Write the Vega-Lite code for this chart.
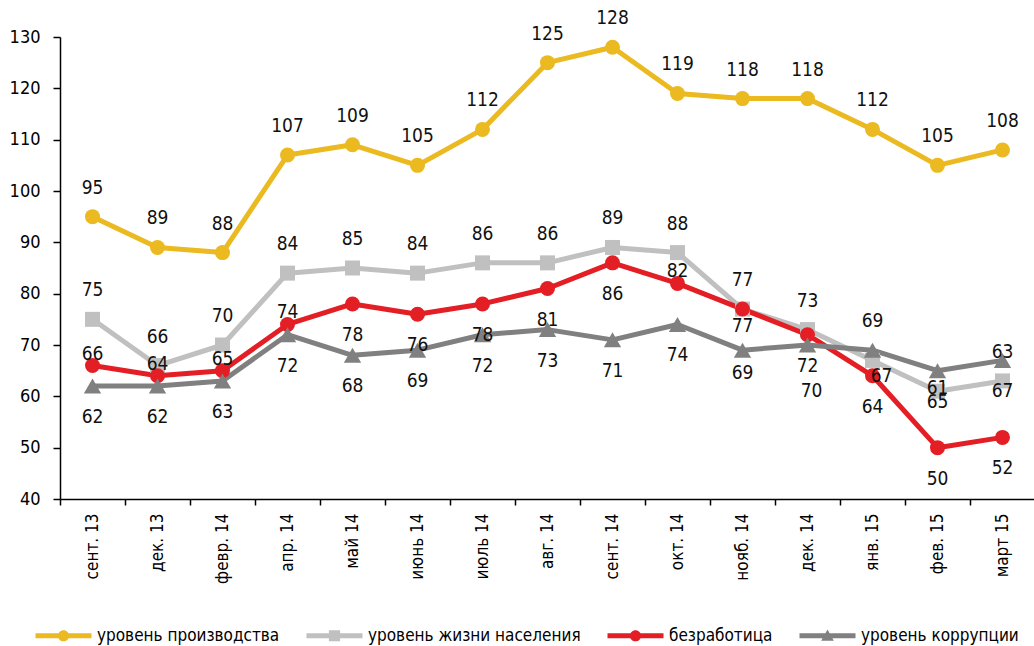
{
  "$schema": "https://vega.github.io/schema/vega-lite/v6.json",
  "width": 975,
  "height": 462,
  "autosize": {"type": "none"},
  "padding": {"left": 60, "top": 37, "right": 0, "bottom": 147},
  "background": "white",
  "config": {
    "view": {"stroke": null},
    "font": "Liberation Sans Narrow, DejaVu Sans Condensed, sans-serif",
    "text": {"font": "Liberation Sans Narrow, DejaVu Sans Condensed, sans-serif"}
  },
  "data": {
    "values": [
      {"month": "сент. 13", "series": "уровень производства", "value": 95},
      {"month": "дек. 13", "series": "уровень производства", "value": 89},
      {"month": "февр. 14", "series": "уровень производства", "value": 88},
      {"month": "апр. 14", "series": "уровень производства", "value": 107},
      {"month": "май 14", "series": "уровень производства", "value": 109},
      {"month": "июнь 14", "series": "уровень производства", "value": 105},
      {"month": "июль 14", "series": "уровень производства", "value": 112},
      {"month": "авг. 14", "series": "уровень производства", "value": 125},
      {"month": "сент. 14", "series": "уровень производства", "value": 128},
      {"month": "окт. 14", "series": "уровень производства", "value": 119},
      {"month": "нояб. 14", "series": "уровень производства", "value": 118},
      {"month": "дек. 14", "series": "уровень производства", "value": 118},
      {"month": "янв. 15", "series": "уровень производства", "value": 112},
      {"month": "фев. 15", "series": "уровень производства", "value": 105},
      {"month": "март 15", "series": "уровень производства", "value": 108},
      {"month": "сент. 13", "series": "уровень жизни населения", "value": 75},
      {"month": "дек. 13", "series": "уровень жизни населения", "value": 66},
      {"month": "февр. 14", "series": "уровень жизни населения", "value": 70},
      {"month": "апр. 14", "series": "уровень жизни населения", "value": 84},
      {"month": "май 14", "series": "уровень жизни населения", "value": 85},
      {"month": "июнь 14", "series": "уровень жизни населения", "value": 84},
      {"month": "июль 14", "series": "уровень жизни населения", "value": 86},
      {"month": "авг. 14", "series": "уровень жизни населения", "value": 86},
      {"month": "сент. 14", "series": "уровень жизни населения", "value": 89},
      {"month": "окт. 14", "series": "уровень жизни населения", "value": 88},
      {"month": "нояб. 14", "series": "уровень жизни населения", "value": 77},
      {"month": "дек. 14", "series": "уровень жизни населения", "value": 73},
      {"month": "янв. 15", "series": "уровень жизни населения", "value": 67},
      {"month": "фев. 15", "series": "уровень жизни населения", "value": 61},
      {"month": "март 15", "series": "уровень жизни населения", "value": 63},
      {"month": "сент. 13", "series": "безработица", "value": 66},
      {"month": "дек. 13", "series": "безработица", "value": 64},
      {"month": "февр. 14", "series": "безработица", "value": 65},
      {"month": "апр. 14", "series": "безработица", "value": 74},
      {"month": "май 14", "series": "безработица", "value": 78},
      {"month": "июнь 14", "series": "безработица", "value": 76},
      {"month": "июль 14", "series": "безработица", "value": 78},
      {"month": "авг. 14", "series": "безработица", "value": 81},
      {"month": "сент. 14", "series": "безработица", "value": 86},
      {"month": "окт. 14", "series": "безработица", "value": 82},
      {"month": "нояб. 14", "series": "безработица", "value": 77},
      {"month": "дек. 14", "series": "безработица", "value": 72},
      {"month": "янв. 15", "series": "безработица", "value": 64},
      {"month": "фев. 15", "series": "безработица", "value": 50},
      {"month": "март 15", "series": "безработица", "value": 52},
      {"month": "сент. 13", "series": "уровень коррупции", "value": 62},
      {"month": "дек. 13", "series": "уровень коррупции", "value": 62},
      {"month": "февр. 14", "series": "уровень коррупции", "value": 63},
      {"month": "апр. 14", "series": "уровень коррупции", "value": 72},
      {"month": "май 14", "series": "уровень коррупции", "value": 68},
      {"month": "июнь 14", "series": "уровень коррупции", "value": 69},
      {"month": "июль 14", "series": "уровень коррупции", "value": 72},
      {"month": "авг. 14", "series": "уровень коррупции", "value": 73},
      {"month": "сент. 14", "series": "уровень коррупции", "value": 71},
      {"month": "окт. 14", "series": "уровень коррупции", "value": 74},
      {"month": "нояб. 14", "series": "уровень коррупции", "value": 69},
      {"month": "дек. 14", "series": "уровень коррупции", "value": 70},
      {"month": "янв. 15", "series": "уровень коррупции", "value": 69},
      {"month": "фев. 15", "series": "уровень коррупции", "value": 65},
      {"month": "март 15", "series": "уровень коррупции", "value": 67}
    ]
  },
  "encoding": {
    "x": {
      "field": "month", "type": "ordinal", "sort": null,
      "scale": {"type": "band", "paddingInner": 0, "paddingOuter": 0},
      "axis": {
        "title": null, "labelAngle": -90, "labelFontSize": 17, "labelColor": "#000",
        "tickBand": "extent", "tickSize": 6, "tickColor": "#000", "tickWidth": 1.5,
        "domainColor": "#000", "domainWidth": 1.5, "labelPadding": 8, "grid": false
      }
    },
    "y": {
      "field": "value", "type": "quantitative",
      "scale": {"domain": [40, 130], "nice": false, "zero": false},
      "axis": {
        "title": null, "values": [40, 50, 60, 70, 80, 90, 100, 110, 120, 130],
        "labelFontSize": 18, "labelColor": "#000", "tickSize": 7, "tickColor": "#000", "tickWidth": 1.5,
        "domainColor": "#000", "domainWidth": 1.5, "labelPadding": 13, "grid": false
      }
    }
  },
  "layer": [
    {
      "mark": {"type": "line", "strokeWidth": 5, "strokeJoin": "round"},
      "encoding": {
        "color": {
          "field": "series", "type": "nominal",
          "scale": {
            "domain": ["уровень производства", "уровень жизни населения", "безработица", "уровень коррупции"],
            "range": ["#EBB920", "#C0C0C0", "#E31E24", "#808080"]
          },
          "legend": {
            "title": null, "orient": "none", "direction": "horizontal", "columns": 4,
            "legendX": -5, "legendY": 590,
            "labelFontSize": 17, "labelColor": "#000", "labelOffset": 25, "columnPadding": 26,
            "symbolSize": 196, "labelLimit": 400,
            "encode": {
              "symbols": {
                "update": {
                  "shape": {"signal": "datum.value === 'уровень производства' ? 'M-4,-0.36H4V0.36H-4ZM-0.8,0A0.8,0.8 0 1,1 0.8,0A0.8,0.8 0 1,1 -0.8,0Z' : datum.value === 'уровень жизни населения' ? 'M-4,-0.36H4V0.36H-4ZM-0.8,-0.8H0.8V0.8H-0.8Z' : datum.value === 'безработица' ? 'M-4,-0.36H4V0.36H-4ZM-0.8,0A0.8,0.8 0 1,1 0.8,0A0.8,0.8 0 1,1 -0.8,0Z' : 'M-4,-0.36H4V0.36H-4ZM0,-0.9L0.9,0.7H-0.9Z'"},
                  "fill": {"signal": "scale('color', datum.value)"},
                  "stroke": {"value": "transparent"},
                  "strokeWidth": {"value": 0},
                  "opacity": {"value": 1}
                }
              }
            }
          }
        }
      }
    },
    {
      "transform": [{"filter": "datum.series === 'уровень производства'"}],
      "mark": {"type": "point", "filled": true, "opacity": 1, "shape": "circle", "size": 225, "color": "#EBB920"}
    },
    {
      "transform": [{"filter": "datum.series === 'уровень жизни населения'"}],
      "mark": {"type": "point", "filled": true, "opacity": 1, "shape": "square", "size": 225, "color": "#C0C0C0"}
    },
    {
      "transform": [{"filter": "datum.series === 'безработица'"}],
      "mark": {"type": "point", "filled": true, "opacity": 1, "shape": "circle", "size": 225, "color": "#E31E24"}
    },
    {
      "transform": [{"filter": "datum.series === 'уровень коррупции'"}],
      "mark": {"type": "point", "filled": true, "opacity": 1, "shape": "triangle-up", "size": 300, "color": "#808080"}
    },
    {
      "transform": [{"filter": "datum.series === 'уровень производства' || (datum.series === 'уровень жизни населения' && datum.month !== 'янв. 15' && datum.month !== 'фев. 15') || (datum.series === 'уровень коррупции' && datum.month === 'янв. 15')"}],
      "mark": {"type": "text", "fontSize": 19, "baseline": "middle", "dy": -29, "color": "#111"},
      "encoding": {"text": {"field": "value", "type": "quantitative", "format": "d"}}
    },
    {
      "transform": [{"filter": "(datum.series === 'безработица' && indexof(['сент. 13','дек. 13','февр. 14','апр. 14','окт. 14','нояб. 14'], datum.month) < 0) || (datum.series === 'уровень коррупции' && indexof(['нояб. 14','дек. 14','янв. 15'], datum.month) < 0)"}],
      "mark": {"type": "text", "fontSize": 19, "baseline": "middle", "dy": 31, "color": "#111"},
      "encoding": {"text": {"field": "value", "type": "quantitative", "format": "d"}}
    },
    {
      "transform": [{"filter": "datum.series === 'безработица' && indexof(['сент. 13','дек. 13','февр. 14','апр. 14','окт. 14'], datum.month) >= 0"}],
      "mark": {"type": "text", "fontSize": 19, "baseline": "middle", "dy": -12, "color": "#111"},
      "encoding": {"text": {"field": "value", "type": "quantitative", "format": "d"}}
    },
    {
      "transform": [{"filter": "datum.series === 'безработица' && datum.month === 'нояб. 14'"}],
      "mark": {"type": "text", "fontSize": 19, "baseline": "middle", "dy": 17, "color": "#111"},
      "encoding": {"text": {"field": "value", "type": "quantitative", "format": "d"}}
    },
    {
      "transform": [{"filter": "datum.series === 'уровень жизни населения' && datum.month === 'янв. 15'"}],
      "mark": {"type": "text", "fontSize": 19, "baseline": "middle", "dy": 16, "dx": 9, "color": "#111"},
      "encoding": {"text": {"field": "value", "type": "quantitative", "format": "d"}}
    },
    {
      "transform": [{"filter": "datum.series === 'уровень жизни населения' && datum.month === 'фев. 15'"}],
      "mark": {"type": "text", "fontSize": 19, "baseline": "middle", "dy": -3, "color": "#111"},
      "encoding": {"text": {"field": "value", "type": "quantitative", "format": "d"}}
    },
    {
      "transform": [{"filter": "datum.series === 'уровень коррупции' && datum.month === 'нояб. 14'"}],
      "mark": {"type": "text", "fontSize": 19, "baseline": "middle", "dy": 23, "color": "#111"},
      "encoding": {"text": {"field": "value", "type": "quantitative", "format": "d"}}
    },
    {
      "transform": [{"filter": "datum.series === 'уровень коррупции' && datum.month === 'дек. 14'"}],
      "mark": {"type": "text", "fontSize": 19, "baseline": "middle", "dy": 46, "dx": 4, "color": "#111"},
      "encoding": {"text": {"field": "value", "type": "quantitative", "format": "d"}}
    }
  ]
}
